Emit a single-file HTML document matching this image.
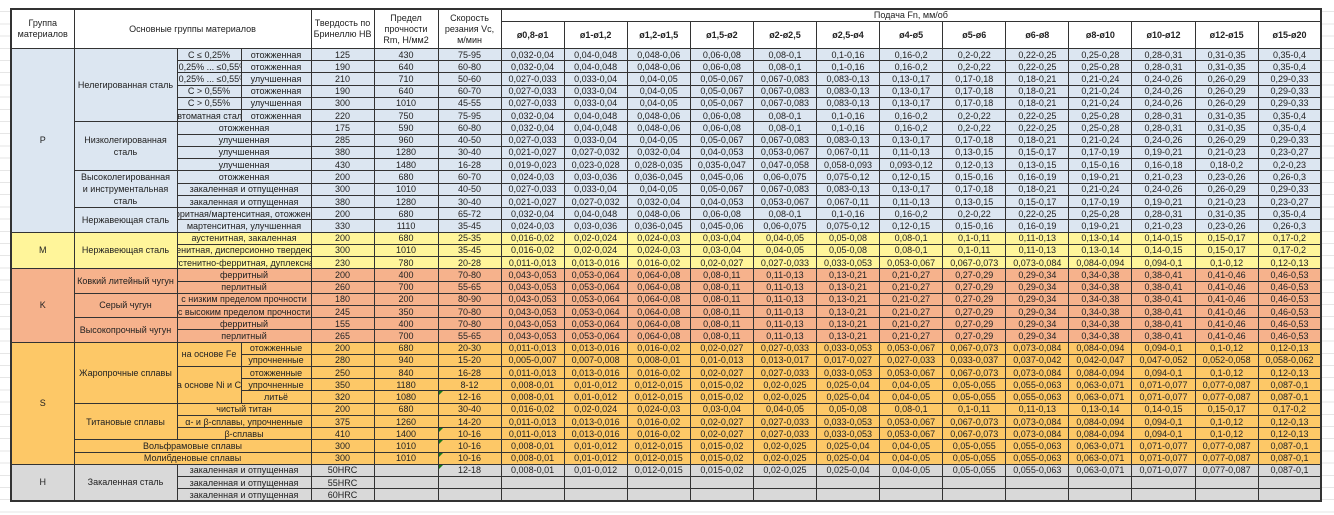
<!DOCTYPE html>
<html><head><meta charset="utf-8"><style>
html,body{margin:0;padding:0;background:#fff;width:1334px;height:515px;overflow:hidden}
body{background-image:repeating-linear-gradient(to bottom,transparent 0,transparent 11.2px,#e6e6e6 11.2px,#e6e6e6 12.2px)}
table{position:absolute;left:10px;top:8px;border-collapse:collapse;table-layout:fixed;width:1311px;border:2px solid #333;font-family:"Liberation Sans",Arial,sans-serif;font-size:9px;color:#222}
td{border:1px solid #333;text-align:center;padding:0;white-space:nowrap;overflow:hidden;line-height:10px}
tr.d{height:12.22px}
td.w{white-space:normal;line-height:12px}
.h td{line-height:11px}
.c{display:block;width:300%;margin-left:-100%;text-align:center}
.h td{background:#fff}
.hb td{font-weight:bold}
.P td{background:#dce6f1}
.M td{background:#fff59a}
.K td{background:#f6b28c}
.S td{background:#fdc867}
.H td{background:#d9d9d9}
.g{position:relative}
.g:before{content:"";position:absolute;left:0;top:0;border-top:4px solid #1a7a1a;border-right:4px solid transparent}
</style></head><body>
<table>
<colgroup><col style="width:63px"><col style="width:103px"><col style="width:64px"><col style="width:70px"><col style="width:63px"><col style="width:64px"><col style="width:63px">
<col style="width:63.1px"><col style="width:63.1px"><col style="width:63.1px"><col style="width:63.1px"><col style="width:63.1px"><col style="width:63.1px"><col style="width:63.1px"><col style="width:63.1px"><col style="width:63.1px"><col style="width:63.1px"><col style="width:63.1px"><col style="width:63.1px"><col style="width:63.1px"></colgroup>
<tr class="h" style="height:12px"><td rowspan="2">Группа<br>материалов</td><td rowspan="2" colspan="3">Основные группы материалов</td><td rowspan="2">Твердость по<br>Бринеллю НВ</td><td rowspan="2">Предел<br>прочности<br>Rm, Н/мм2</td><td rowspan="2">Скорость<br>резания Vc,<br>м/мин</td><td colspan="13">Подача Fn, мм/об</td></tr>
<tr class="h hb" style="height:27px"><td>ø0,8-ø1</td><td>ø1-ø1,2</td><td>ø1,2-ø1,5</td><td>ø1,5-ø2</td><td>ø2-ø2,5</td><td>ø2,5-ø4</td><td>ø4-ø5</td><td>ø5-ø6</td><td>ø6-ø8</td><td>ø8-ø10</td><td>ø10-ø12</td><td>ø12-ø15</td><td>ø15-ø20</td></tr>

<tr class="d P"><td rowspan="15">P</td><td rowspan="6" class="w">Нелегированная сталь</td><td>C ≤ 0,25%</td><td>отожженная</td><td>125</td><td>430</td><td>75-95</td><td>0,032-0,04</td><td>0,04-0,048</td><td>0,048-0,06</td><td>0,06-0,08</td><td>0,08-0,1</td><td>0,1-0,16</td><td>0,16-0,2</td><td>0,2-0,22</td><td>0,22-0,25</td><td>0,25-0,28</td><td>0,28-0,31</td><td>0,31-0,35</td><td>0,35-0,4</td></tr>
<tr class="d P"><td><span class="c">&gt; 0,25% ... ≤0,55%</span></td><td>отожженная</td><td>190</td><td>640</td><td>60-80</td><td>0,032-0,04</td><td>0,04-0,048</td><td>0,048-0,06</td><td>0,06-0,08</td><td>0,08-0,1</td><td>0,1-0,16</td><td>0,16-0,2</td><td>0,2-0,22</td><td>0,22-0,25</td><td>0,25-0,28</td><td>0,28-0,31</td><td>0,31-0,35</td><td>0,35-0,4</td></tr>
<tr class="d P"><td><span class="c">&gt; 0,25% ... ≤0,55%</span></td><td>улучшенная</td><td>210</td><td>710</td><td>50-60</td><td>0,027-0,033</td><td>0,033-0,04</td><td>0,04-0,05</td><td>0,05-0,067</td><td>0,067-0,083</td><td>0,083-0,13</td><td>0,13-0,17</td><td>0,17-0,18</td><td>0,18-0,21</td><td>0,21-0,24</td><td>0,24-0,26</td><td>0,26-0,29</td><td>0,29-0,33</td></tr>
<tr class="d P"><td>C &gt; 0,55%</td><td>отожженная</td><td>190</td><td>640</td><td>60-70</td><td>0,027-0,033</td><td>0,033-0,04</td><td>0,04-0,05</td><td>0,05-0,067</td><td>0,067-0,083</td><td>0,083-0,13</td><td>0,13-0,17</td><td>0,17-0,18</td><td>0,18-0,21</td><td>0,21-0,24</td><td>0,24-0,26</td><td>0,26-0,29</td><td>0,29-0,33</td></tr>
<tr class="d P"><td>C &gt; 0,55%</td><td>улучшенная</td><td>300</td><td>1010</td><td>45-55</td><td>0,027-0,033</td><td>0,033-0,04</td><td>0,04-0,05</td><td>0,05-0,067</td><td>0,067-0,083</td><td>0,083-0,13</td><td>0,13-0,17</td><td>0,17-0,18</td><td>0,18-0,21</td><td>0,21-0,24</td><td>0,24-0,26</td><td>0,26-0,29</td><td>0,29-0,33</td></tr>
<tr class="d P"><td><span class="c">Автоматная сталь</span></td><td>отожженная</td><td>220</td><td>750</td><td>75-95</td><td>0,032-0,04</td><td>0,04-0,048</td><td>0,048-0,06</td><td>0,06-0,08</td><td>0,08-0,1</td><td>0,1-0,16</td><td>0,16-0,2</td><td>0,2-0,22</td><td>0,22-0,25</td><td>0,25-0,28</td><td>0,28-0,31</td><td>0,31-0,35</td><td>0,35-0,4</td></tr>
<tr class="d P"><td rowspan="4" class="w">Низколегированная<br>сталь</td><td colspan="2">отожженная</td><td>175</td><td>590</td><td>60-80</td><td>0,032-0,04</td><td>0,04-0,048</td><td>0,048-0,06</td><td>0,06-0,08</td><td>0,08-0,1</td><td>0,1-0,16</td><td>0,16-0,2</td><td>0,2-0,22</td><td>0,22-0,25</td><td>0,25-0,28</td><td>0,28-0,31</td><td>0,31-0,35</td><td>0,35-0,4</td></tr>
<tr class="d P"><td colspan="2">улучшенная</td><td>285</td><td>960</td><td>40-50</td><td>0,027-0,033</td><td>0,033-0,04</td><td>0,04-0,05</td><td>0,05-0,067</td><td>0,067-0,083</td><td>0,083-0,13</td><td>0,13-0,17</td><td>0,17-0,18</td><td>0,18-0,21</td><td>0,21-0,24</td><td>0,24-0,26</td><td>0,26-0,29</td><td>0,29-0,33</td></tr>
<tr class="d P"><td colspan="2">улучшенная</td><td>380</td><td>1280</td><td>30-40</td><td>0,021-0,027</td><td>0,027-0,032</td><td>0,032-0,04</td><td>0,04-0,053</td><td>0,053-0,067</td><td>0,067-0,11</td><td>0,11-0,13</td><td>0,13-0,15</td><td>0,15-0,17</td><td>0,17-0,19</td><td>0,19-0,21</td><td>0,21-0,23</td><td>0,23-0,27</td></tr>
<tr class="d P"><td colspan="2">улучшенная</td><td>430</td><td>1480</td><td>16-28</td><td>0,019-0,023</td><td>0,023-0,028</td><td>0,028-0,035</td><td>0,035-0,047</td><td>0,047-0,058</td><td>0,058-0,093</td><td>0,093-0,12</td><td>0,12-0,13</td><td>0,13-0,15</td><td>0,15-0,16</td><td>0,16-0,18</td><td>0,18-0,2</td><td>0,2-0,23</td></tr>
<tr class="d P"><td rowspan="3" class="w">Высоколегированная<br>и инструментальная<br>сталь</td><td colspan="2">отожженная</td><td>200</td><td>680</td><td>60-70</td><td>0,024-0,03</td><td>0,03-0,036</td><td>0,036-0,045</td><td>0,045-0,06</td><td>0,06-0,075</td><td>0,075-0,12</td><td>0,12-0,15</td><td>0,15-0,16</td><td>0,16-0,19</td><td>0,19-0,21</td><td>0,21-0,23</td><td>0,23-0,26</td><td>0,26-0,3</td></tr>
<tr class="d P"><td colspan="2">закаленная и отпущенная</td><td>300</td><td>1010</td><td>40-50</td><td>0,027-0,033</td><td>0,033-0,04</td><td>0,04-0,05</td><td>0,05-0,067</td><td>0,067-0,083</td><td>0,083-0,13</td><td>0,13-0,17</td><td>0,17-0,18</td><td>0,18-0,21</td><td>0,21-0,24</td><td>0,24-0,26</td><td>0,26-0,29</td><td>0,29-0,33</td></tr>
<tr class="d P"><td colspan="2">закаленная и отпущенная</td><td>380</td><td>1280</td><td>30-40</td><td>0,021-0,027</td><td>0,027-0,032</td><td>0,032-0,04</td><td>0,04-0,053</td><td>0,053-0,067</td><td>0,067-0,11</td><td>0,11-0,13</td><td>0,13-0,15</td><td>0,15-0,17</td><td>0,17-0,19</td><td>0,19-0,21</td><td>0,21-0,23</td><td>0,23-0,27</td></tr>
<tr class="d P"><td rowspan="2" class="w">Нержавеющая сталь</td><td colspan="2"><span class="c">ферритная/мартенситная, отожженная</span></td><td>200</td><td>680</td><td>65-72</td><td>0,032-0,04</td><td>0,04-0,048</td><td>0,048-0,06</td><td>0,06-0,08</td><td>0,08-0,1</td><td>0,1-0,16</td><td>0,16-0,2</td><td>0,2-0,22</td><td>0,22-0,25</td><td>0,25-0,28</td><td>0,28-0,31</td><td>0,31-0,35</td><td>0,35-0,4</td></tr>
<tr class="d P"><td colspan="2">мартенситная, улучшенная</td><td>330</td><td>1110</td><td>35-45</td><td>0,024-0,03</td><td>0,03-0,036</td><td>0,036-0,045</td><td>0,045-0,06</td><td>0,06-0,075</td><td>0,075-0,12</td><td>0,12-0,15</td><td>0,15-0,16</td><td>0,16-0,19</td><td>0,19-0,21</td><td>0,21-0,23</td><td>0,23-0,26</td><td>0,26-0,3</td></tr>

<tr class="d M"><td rowspan="3">M</td><td rowspan="3" class="w">Нержавеющая сталь</td><td colspan="2">аустенитная, закаленная</td><td>200</td><td>680</td><td>25-35</td><td>0,016-0,02</td><td>0,02-0,024</td><td>0,024-0,03</td><td>0,03-0,04</td><td>0,04-0,05</td><td>0,05-0,08</td><td>0,08-0,1</td><td>0,1-0,11</td><td>0,11-0,13</td><td>0,13-0,14</td><td>0,14-0,15</td><td>0,15-0,17</td><td>0,17-0,2</td></tr>
<tr class="d M"><td colspan="2"><span class="c">аустенитная, дисперсионно твердеющая</span></td><td>300</td><td>1010</td><td>35-45</td><td>0,016-0,02</td><td>0,02-0,024</td><td>0,024-0,03</td><td>0,03-0,04</td><td>0,04-0,05</td><td>0,05-0,08</td><td>0,08-0,1</td><td>0,1-0,11</td><td>0,11-0,13</td><td>0,13-0,14</td><td>0,14-0,15</td><td>0,15-0,17</td><td>0,17-0,2</td></tr>
<tr class="d M"><td colspan="2"><span class="c">аустенитно-ферритная, дуплексная</span></td><td>230</td><td>780</td><td>20-28</td><td>0,011-0,013</td><td>0,013-0,016</td><td>0,016-0,02</td><td>0,02-0,027</td><td>0,027-0,033</td><td>0,033-0,053</td><td>0,053-0,067</td><td>0,067-0,073</td><td>0,073-0,084</td><td>0,084-0,094</td><td>0,094-0,1</td><td>0,1-0,12</td><td>0,12-0,13</td></tr>

<tr class="d K"><td rowspan="6">K</td><td rowspan="2" class="w">Ковкий литейный чугун</td><td colspan="2">ферритный</td><td>200</td><td>400</td><td>70-80</td><td>0,043-0,053</td><td>0,053-0,064</td><td>0,064-0,08</td><td>0,08-0,11</td><td>0,11-0,13</td><td>0,13-0,21</td><td>0,21-0,27</td><td>0,27-0,29</td><td>0,29-0,34</td><td>0,34-0,38</td><td>0,38-0,41</td><td>0,41-0,46</td><td>0,46-0,53</td></tr>
<tr class="d K"><td colspan="2">перлитный</td><td>260</td><td>700</td><td>55-65</td><td>0,043-0,053</td><td>0,053-0,064</td><td>0,064-0,08</td><td>0,08-0,11</td><td>0,11-0,13</td><td>0,13-0,21</td><td>0,21-0,27</td><td>0,27-0,29</td><td>0,29-0,34</td><td>0,34-0,38</td><td>0,38-0,41</td><td>0,41-0,46</td><td>0,46-0,53</td></tr>
<tr class="d K"><td rowspan="2" class="w">Серый чугун</td><td colspan="2">с низким пределом прочности</td><td>180</td><td>200</td><td>80-90</td><td>0,043-0,053</td><td>0,053-0,064</td><td>0,064-0,08</td><td>0,08-0,11</td><td>0,11-0,13</td><td>0,13-0,21</td><td>0,21-0,27</td><td>0,27-0,29</td><td>0,29-0,34</td><td>0,34-0,38</td><td>0,38-0,41</td><td>0,41-0,46</td><td>0,46-0,53</td></tr>
<tr class="d K"><td colspan="2">с высоким пределом прочности</td><td>245</td><td>350</td><td>70-80</td><td>0,043-0,053</td><td>0,053-0,064</td><td>0,064-0,08</td><td>0,08-0,11</td><td>0,11-0,13</td><td>0,13-0,21</td><td>0,21-0,27</td><td>0,27-0,29</td><td>0,29-0,34</td><td>0,34-0,38</td><td>0,38-0,41</td><td>0,41-0,46</td><td>0,46-0,53</td></tr>
<tr class="d K"><td rowspan="2" class="w">Высокопрочный чугун</td><td colspan="2">ферритный</td><td>155</td><td>400</td><td>70-80</td><td>0,043-0,053</td><td>0,053-0,064</td><td>0,064-0,08</td><td>0,08-0,11</td><td>0,11-0,13</td><td>0,13-0,21</td><td>0,21-0,27</td><td>0,27-0,29</td><td>0,29-0,34</td><td>0,34-0,38</td><td>0,38-0,41</td><td>0,41-0,46</td><td>0,46-0,53</td></tr>
<tr class="d K"><td colspan="2">перлитный</td><td>265</td><td>700</td><td>55-65</td><td>0,043-0,053</td><td>0,053-0,064</td><td>0,064-0,08</td><td>0,08-0,11</td><td>0,11-0,13</td><td>0,13-0,21</td><td>0,21-0,27</td><td>0,27-0,29</td><td>0,29-0,34</td><td>0,34-0,38</td><td>0,38-0,41</td><td>0,41-0,46</td><td>0,46-0,53</td></tr>

<tr class="d S"><td rowspan="10">S</td><td rowspan="5" class="w">Жаропрочные сплавы</td><td rowspan="2">на основе Fe</td><td>отожженные</td><td>200</td><td>680</td><td>20-30</td><td>0,011-0,013</td><td>0,013-0,016</td><td>0,016-0,02</td><td>0,02-0,027</td><td>0,027-0,033</td><td>0,033-0,053</td><td>0,053-0,067</td><td>0,067-0,073</td><td>0,073-0,084</td><td>0,084-0,094</td><td>0,094-0,1</td><td>0,1-0,12</td><td>0,12-0,13</td></tr>
<tr class="d S"><td>упрочненные</td><td>280</td><td>940</td><td>15-20</td><td>0,005-0,007</td><td>0,007-0,008</td><td>0,008-0,01</td><td>0,01-0,013</td><td>0,013-0,017</td><td>0,017-0,027</td><td>0,027-0,033</td><td>0,033-0,037</td><td>0,037-0,042</td><td>0,042-0,047</td><td>0,047-0,052</td><td>0,052-0,058</td><td>0,058-0,062</td></tr>
<tr class="d S"><td rowspan="3"><span class="c">на основе Ni и Co</span></td><td>отожженные</td><td>250</td><td>840</td><td>16-28</td><td>0,011-0,013</td><td>0,013-0,016</td><td>0,016-0,02</td><td>0,02-0,027</td><td>0,027-0,033</td><td>0,033-0,053</td><td>0,053-0,067</td><td>0,067-0,073</td><td>0,073-0,084</td><td>0,084-0,094</td><td>0,094-0,1</td><td>0,1-0,12</td><td>0,12-0,13</td></tr>
<tr class="d S"><td>упрочненные</td><td>350</td><td>1180</td><td>8-12</td><td>0,008-0,01</td><td>0,01-0,012</td><td>0,012-0,015</td><td>0,015-0,02</td><td>0,02-0,025</td><td>0,025-0,04</td><td>0,04-0,05</td><td>0,05-0,055</td><td>0,055-0,063</td><td>0,063-0,071</td><td>0,071-0,077</td><td>0,077-0,087</td><td>0,087-0,1</td></tr>
<tr class="d S"><td>литьё</td><td>320</td><td>1080</td><td class="g">12-16</td><td>0,008-0,01</td><td>0,01-0,012</td><td>0,012-0,015</td><td>0,015-0,02</td><td>0,02-0,025</td><td>0,025-0,04</td><td>0,04-0,05</td><td>0,05-0,055</td><td>0,055-0,063</td><td>0,063-0,071</td><td>0,071-0,077</td><td>0,077-0,087</td><td>0,087-0,1</td></tr>
<tr class="d S"><td rowspan="3" class="w">Титановые сплавы</td><td colspan="2">чистый титан</td><td>200</td><td>680</td><td>30-40</td><td>0,016-0,02</td><td>0,02-0,024</td><td>0,024-0,03</td><td>0,03-0,04</td><td>0,04-0,05</td><td>0,05-0,08</td><td>0,08-0,1</td><td>0,1-0,11</td><td>0,11-0,13</td><td>0,13-0,14</td><td>0,14-0,15</td><td>0,15-0,17</td><td>0,17-0,2</td></tr>
<tr class="d S"><td colspan="2">α- и β-сплавы, упрочненные</td><td>375</td><td>1260</td><td>14-20</td><td>0,011-0,013</td><td>0,013-0,016</td><td>0,016-0,02</td><td>0,02-0,027</td><td>0,027-0,033</td><td>0,033-0,053</td><td>0,053-0,067</td><td>0,067-0,073</td><td>0,073-0,084</td><td>0,084-0,094</td><td>0,094-0,1</td><td>0,1-0,12</td><td>0,12-0,13</td></tr>
<tr class="d S"><td colspan="2">β-сплавы</td><td>410</td><td>1400</td><td class="g">10-16</td><td>0,011-0,013</td><td>0,013-0,016</td><td>0,016-0,02</td><td>0,02-0,027</td><td>0,027-0,033</td><td>0,033-0,053</td><td>0,053-0,067</td><td>0,067-0,073</td><td>0,073-0,084</td><td>0,084-0,094</td><td>0,094-0,1</td><td>0,1-0,12</td><td>0,12-0,13</td></tr>
<tr class="d S"><td colspan="3">Вольфрамовые сплавы</td><td>300</td><td>1010</td><td class="g">10-16</td><td>0,008-0,01</td><td>0,01-0,012</td><td>0,012-0,015</td><td>0,015-0,02</td><td>0,02-0,025</td><td>0,025-0,04</td><td>0,04-0,05</td><td>0,05-0,055</td><td>0,055-0,063</td><td>0,063-0,071</td><td>0,071-0,077</td><td>0,077-0,087</td><td>0,087-0,1</td></tr>
<tr class="d S"><td colspan="3">Молибденовые сплавы</td><td>300</td><td>1010</td><td class="g">10-16</td><td>0,008-0,01</td><td>0,01-0,012</td><td>0,012-0,015</td><td>0,015-0,02</td><td>0,02-0,025</td><td>0,025-0,04</td><td>0,04-0,05</td><td>0,05-0,055</td><td>0,055-0,063</td><td>0,063-0,071</td><td>0,071-0,077</td><td>0,077-0,087</td><td>0,087-0,1</td></tr>

<tr class="d H"><td rowspan="3">H</td><td rowspan="3" class="w">Закаленная сталь</td><td colspan="2">закаленная и отпущенная</td><td>50HRC</td><td></td><td class="g">12-18</td><td>0,008-0,01</td><td>0,01-0,012</td><td>0,012-0,015</td><td>0,015-0,02</td><td>0,02-0,025</td><td>0,025-0,04</td><td>0,04-0,05</td><td>0,05-0,055</td><td>0,055-0,063</td><td>0,063-0,071</td><td>0,071-0,077</td><td>0,077-0,087</td><td>0,087-0,1</td></tr>
<tr class="d H"><td colspan="2">закаленная и отпущенная</td><td>55HRC</td><td></td><td></td><td></td><td></td><td></td><td></td><td></td><td></td><td></td><td></td><td></td><td></td><td></td><td></td><td></td></tr>
<tr class="d H"><td colspan="2">закаленная и отпущенная</td><td>60HRC</td><td></td><td></td><td></td><td></td><td></td><td></td><td></td><td></td><td></td><td></td><td></td><td></td><td></td><td></td><td></td></tr>
</table>
</body></html>
